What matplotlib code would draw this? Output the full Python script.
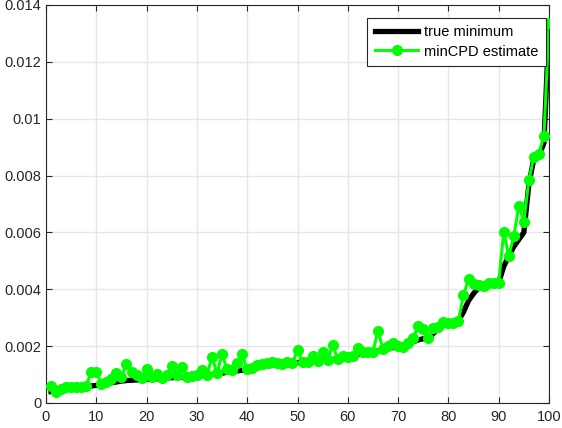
import numpy as np
import matplotlib
matplotlib.use("Agg")
import matplotlib.pyplot as plt

plt.rcParams['font.family'] = ['Liberation Sans', 'DejaVu Sans']

x = np.arange(1, 101)

true_min = [
    0.00040, 0.00041, 0.00046, 0.00050, 0.00053, 0.00055, 0.00056, 0.00058, 0.00060, 0.00062,
    0.00065, 0.00068, 0.00071, 0.00074, 0.00077, 0.00079, 0.00080, 0.00081, 0.00082, 0.00083,
    0.00084, 0.00085, 0.00086, 0.00088, 0.00089, 0.00090, 0.00091, 0.00092, 0.00093, 0.00095,
    0.00097, 0.00098, 0.00100, 0.00102, 0.00105, 0.00108, 0.00110, 0.00113, 0.00115, 0.00116,
    0.00120, 0.00124, 0.00127, 0.00130, 0.00132, 0.00134, 0.00136, 0.00138, 0.00140, 0.00142,
    0.00144, 0.00145, 0.00147, 0.00148, 0.00150, 0.00152, 0.00153, 0.00154, 0.00158, 0.00161,
    0.00164, 0.00170, 0.00175, 0.00178, 0.00180, 0.00183, 0.00187, 0.00192, 0.00195, 0.00196,
    0.00196, 0.00205, 0.00215, 0.00222, 0.00226, 0.00228, 0.00245, 0.00262, 0.00272, 0.00278,
    0.00282, 0.00290, 0.00320, 0.00360, 0.00385, 0.00405, 0.00410, 0.00415, 0.00420, 0.00423,
    0.00480, 0.00517, 0.00550, 0.00575, 0.00600, 0.00770, 0.00860, 0.00870, 0.00915, 0.01330,
]

mincpd = [
    0.00060, 0.00040, 0.00048, 0.00055, 0.00055, 0.00057, 0.00057, 0.00060, 0.00110, 0.00110,
    0.00067, 0.00075, 0.00083, 0.00107, 0.00093, 0.00136, 0.00110, 0.00098, 0.00089, 0.00120,
    0.00093, 0.00102, 0.00087, 0.00098, 0.00130, 0.00098, 0.00128, 0.00093, 0.00095, 0.00098,
    0.00116, 0.00098, 0.00163, 0.00104, 0.00172, 0.00118, 0.00116, 0.00142, 0.00171, 0.00118,
    0.00122, 0.00135, 0.00138, 0.00142, 0.00145, 0.00142, 0.00137, 0.00145, 0.00142, 0.00186,
    0.00145, 0.00145, 0.00165, 0.00149, 0.00180, 0.00152, 0.00204, 0.00154, 0.00165, 0.00163,
    0.00165, 0.00192, 0.00180, 0.00180, 0.00180, 0.00254, 0.00189, 0.00200, 0.00212, 0.00200,
    0.00196, 0.00212, 0.00228, 0.00271, 0.00259, 0.00230, 0.00263, 0.00268, 0.00286, 0.00280,
    0.00283, 0.00290, 0.00380, 0.00435, 0.00420, 0.00415, 0.00410, 0.00423, 0.00423, 0.00423,
    0.00603, 0.00517, 0.00587, 0.00693, 0.00638, 0.00784, 0.00866, 0.00876, 0.00940, 0.01336,
]

xticks = [0, 10, 20, 30, 40, 50, 60, 70, 80, 90, 100]
yticks = [0, 0.002, 0.004, 0.006, 0.008, 0.01, 0.012, 0.014]
ytick_labels = ['0', '0.002', '0.004', '0.006', '0.008', '0.01', '0.012', '0.014']

fig = plt.figure(figsize=(5.62, 4.28), dpi=100)
ax = fig.add_axes([46/562, 1-403/428, (549-46)/562, (403-5)/428])

ax.plot(x, true_min, color='black', linewidth=3.8, label='true minimum', zorder=3)
ax.plot(x, mincpd, color='#00ff00', linewidth=2.2, marker='o', markersize=7,
        label='minCPD estimate', zorder=4)

ax.set_xlim(0, 100)
ax.set_ylim(0, 0.014)
ax.set_xticks(xticks)
ax.set_yticks(yticks)
ax.set_yticklabels(ytick_labels)
ax.grid(True, color='#e6e6e6', linewidth=1.0)
ax.set_axisbelow(True)
ax.tick_params(direction='in', length=4, width=0.8, colors='#262626',
               labelsize=10.5, top=True, right=True, labelcolor='#262626')
ax.tick_params(axis='x', pad=5)
for s in ax.spines.values():
    s.set_color('#262626')
    s.set_linewidth(0.8)

leg = ax.legend(loc='upper right', bbox_to_anchor=(0.994, 0.967), fontsize=10.5,
                frameon=True, fancybox=False, framealpha=1, edgecolor='#262626',
                handlelength=3.0, borderpad=0.5, labelspacing=0.35, handletextpad=0.4,
                borderaxespad=0.0)
leg.get_frame().set_linewidth(0.8)

fig.savefig('out.png', dpi=100)
